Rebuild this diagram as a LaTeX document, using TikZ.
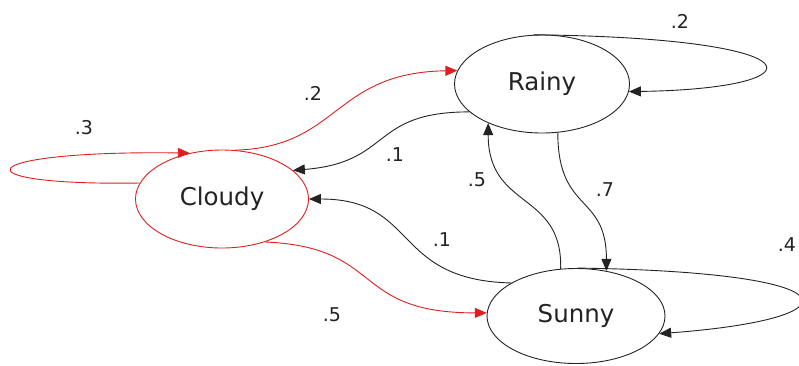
\documentclass[tikz,border=0pt]{standalone}
\usepackage{fontspec}
\setmainfont{DejaVu Sans}
\usetikzlibrary{shapes.geometric, arrows.meta}

\definecolor{edgered}{RGB}{225,30,30}
\definecolor{ink}{RGB}{35,35,35}

\begin{document}
\begin{tikzpicture}[
        x=1pt, y=-1pt,
        state/.style={draw=ink, ellipse, line width=0.9pt, inner sep=0pt, font=\fontsize{24.5}{24.5}\selectfont, text=ink},
        prob/.style={font=\fontsize{19}{19}\selectfont, text=ink, inner sep=0pt},
        trans/.style={draw=ink, line width=0.9pt, -{Triangle[length=12pt, width=10pt]}},
        redtrans/.style={trans, draw=edgered}
    ]
        \useasboundingbox (0,0) rectangle (799,365);

        % the three weather states
        \node[state, draw=edgered, minimum width=173pt, minimum height=98pt] (cloudy) at (222,199) {Cloudy};
        \node[state, minimum width=175pt, minimum height=98pt] (rainy) at (542,84) {Rainy};
        \node[state, minimum width=178pt, minimum height=95pt] (sunny) at (576,316) {Sunny};

        % transitions out of Cloudy (red)
        \draw[redtrans] (cloudy.169) .. controls +(-187,3) and +(-220,-3) .. (cloudy.125);
        \draw[redtrans] (cloudy.75) .. controls +(105,-3) and +(-125,2) .. (rainy.171);
        \draw[redtrans] (cloudy.-45) .. controls +(120,5) and +(-137,0) .. (sunny.178);

        % transitions out of Rainy
        \draw[trans] (rainy.100) .. controls +(290,3) and +(195,-3) .. (rainy.-5);
        \draw[trans] (rainy.201) .. controls +(-100,0) and +(100,-8) .. (cloudy.22);
        \draw[trans] (rainy.288) .. controls +(0,81) and +(0,-78) .. (sunny.56);

        % transitions out of Sunny
        \draw[trans] (sunny.88) .. controls +(281,4) and +(201,-15) .. (sunny.-12);
        \draw[trans] (sunny.108) .. controls +(2,-78) and +(0,87) .. (rainy.216);
        \draw[trans] (sunny.153) .. controls +(-120,-3) and +(110,0) .. (cloudy.0);

        % probabilities
        \node[prob] (pcc) at (84,128) {.3};
        \node[prob] (pcr) at (313,93) {.2};
        \node[prob] (pcs) at (332,315) {.5};
        \node[prob] (prr) at (680,21) {.2};
        \node[prob] (prc) at (395,155) {.1};
        \node[prob] (prs) at (605,190) {.7};
        \node[prob] (pss) at (787,245) {.4};
        \node[prob] (psr) at (477,180) {.5};
        \node[prob] (psc) at (442,240) {.1};
    \end{tikzpicture}
\end{document}
